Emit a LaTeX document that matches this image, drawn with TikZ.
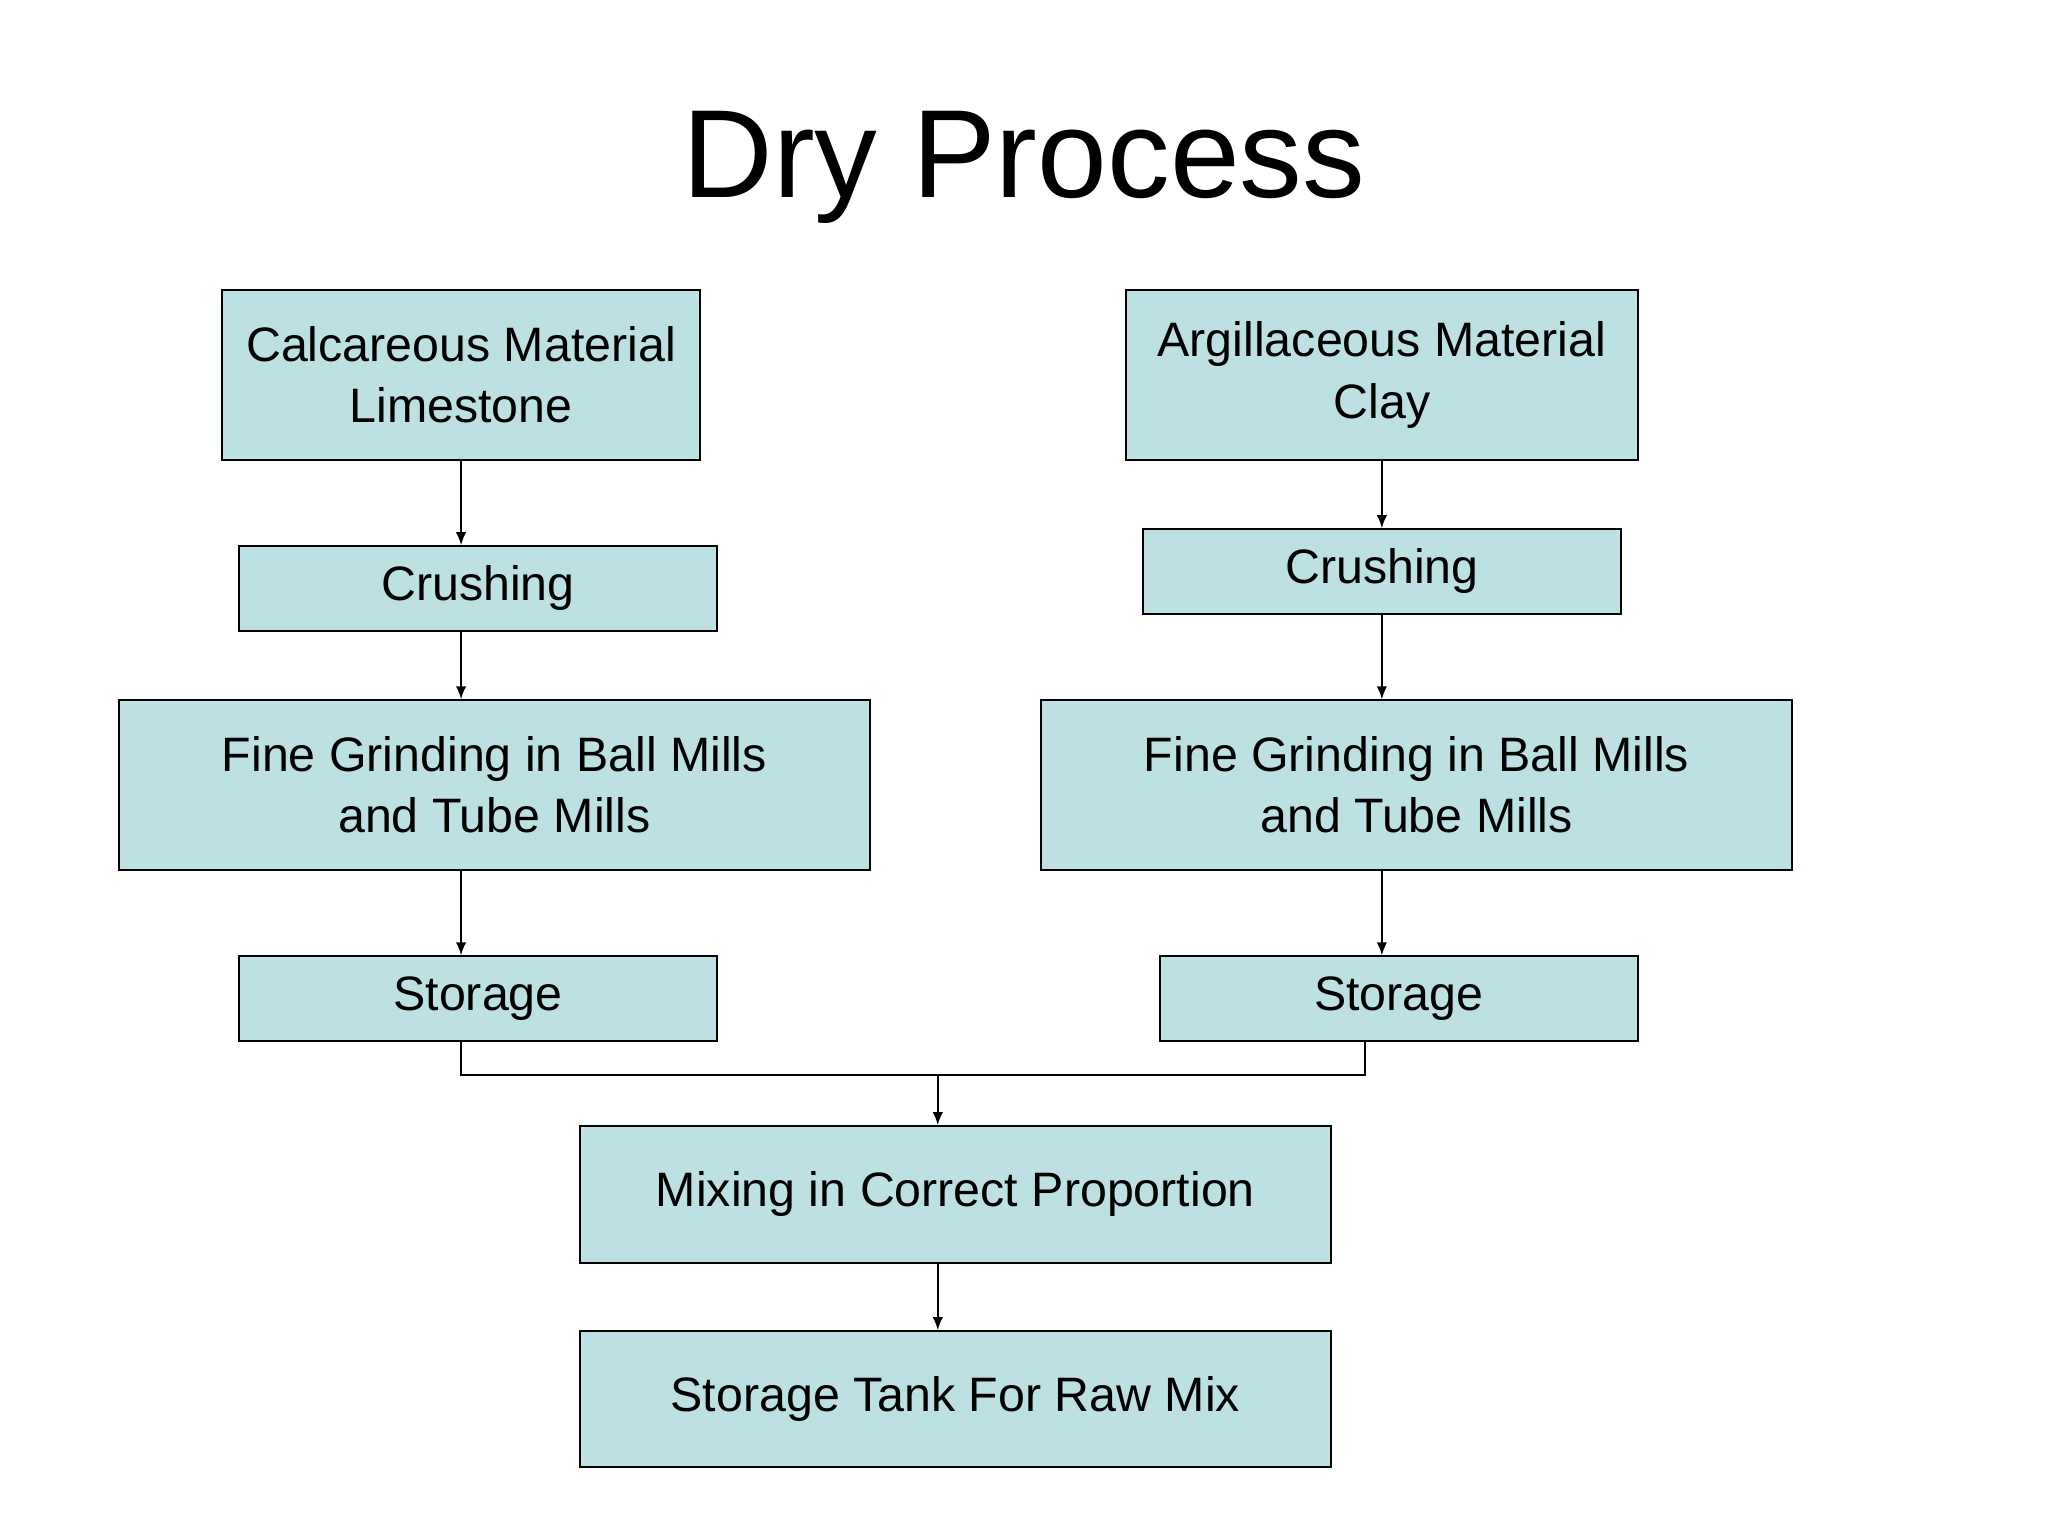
\documentclass[tikz,border=0pt]{standalone}
\usepackage{fontspec}
\setmainfont{Liberation Sans}
\usetikzlibrary{arrows.meta}
\begin{document}
\begin{tikzpicture}[x=1pt,y=-1pt,
  box/.style={draw=black,line width=1.2pt,fill=boxc,inner sep=0pt,align=center,font=\fontsize{37}{47}\selectfont},
  arr/.style={line width=1.3pt,-{Latex[length=10pt,width=8pt]}},
  ln/.style={line width=1.3pt}]
\definecolor{boxc}{HTML}{BDE0E2}
\useasboundingbox[fill=white] (0,0) rectangle (1568,1176);
\node[font=\fontsize{96}{110}\selectfont] (title) at (784,128) {Dry Process};
\node[box,minimum width=366pt,minimum height=130pt] (calc) at (353,287) {Calcareous Material\\Limestone};
\node[box,minimum width=366pt,minimum height=65pt] (crL) at (366,450.5) {Crushing};
\node[box,minimum width=575pt,minimum height=130pt] (fiL) at (378.5,601) {Fine Grinding in Ball Mills\\and Tube Mills};
\node[box,minimum width=366pt,minimum height=65pt] (stL) at (366,764.5) {Storage};
\node[box,minimum width=392pt,minimum height=130pt] (arg) at (1058,287) {Argillaceous Material\\Clay};
\node[box,minimum width=366pt,minimum height=65pt] (crR) at (1058,437.5) {Crushing};
\node[box,minimum width=575pt,minimum height=130pt] (fiR) at (1084.5,601) {Fine Grinding in Ball Mills\\and Tube Mills};
\node[box,minimum width=366pt,minimum height=65pt] (stR) at (1071,764.5) {Storage};
\node[box,minimum width=575pt,minimum height=105pt] (mix) at (731.5,914.5) {Mixing in Correct Proportion};
\node[box,minimum width=575pt,minimum height=104pt] (tank) at (731.5,1071) {Storage Tank For Raw Mix};
\draw[arr] (calc.south) -- (calc.south |- crL.north);
\draw[arr] (calc.south |- crL.south) -- (calc.south |- fiL.north);
\draw[arr] (calc.south |- fiL.south) -- (calc.south |- stL.north);
\draw[arr] (arg.south) -- (arg.south |- crR.north);
\draw[arr] (crR.south) -- (crR.south |- fiR.north);
\draw[arr] (arg.south |- fiR.south) -- (arg.south |- stR.north);
\coordinate (jl) at (353,823);
\coordinate (jr) at (1045,823);
\coordinate (jm) at (718,823);
\draw[ln] (calc.south |- stL.south) -- (jl) -- (jr) -- (jr |- stR.south);
\draw[arr] (jm) -- (jm |- mix.north);
\draw[arr] (jm |- mix.south) -- (jm |- tank.north);
\end{tikzpicture}
\end{document}
